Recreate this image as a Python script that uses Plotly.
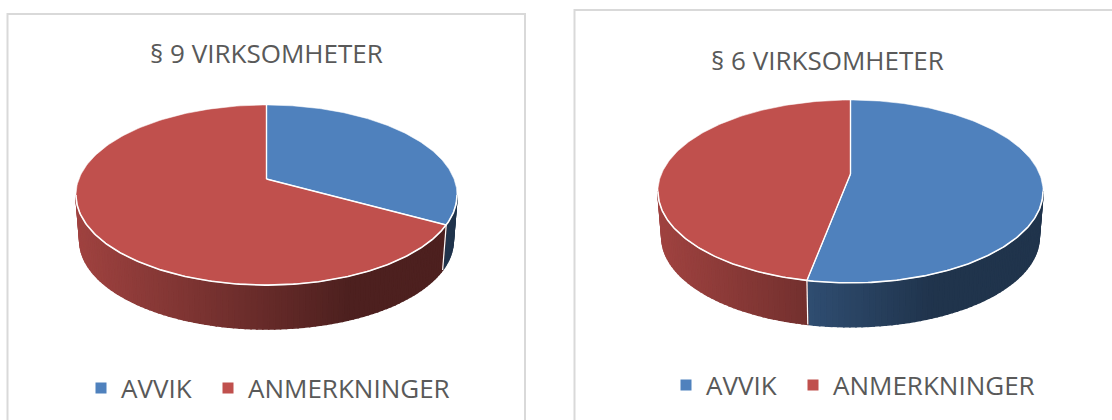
import numpy as np
import plotly.graph_objects as go

# ---- data ----
categories = ["AVVIK", "ANMERKNINGER"]
titles = ["§ 9 VIRKSOMHETER", "§ 6 VIRKSOMHETER"]
values_par9 = [33, 67]
values_par6 = [53, 47]
colors = ["#4f81bd", "#c0504d"]

FONT = "Open Sans"
TXT = "#595959"

# layout of each 3-D pie, in axis units (axis = page pixels)
pies = [
    dict(values=values_par9, hx=266.5, hy=179, a=187.5, b=87.2, k=0.178, title=titles[0], tx=266, ty=53,
         lg=["legend", "legend2"], lx=[81, 208], ly=388),
    dict(values=values_par6, hx=850.5, hy=174, a=189, b=88.1, k=0.191, title=titles[1], tx=827, ty=60,
         lg=["legend3", "legend4"], lx=[666, 793], ly=385),
]
DEPTH = 46
BOTTOM_SCALE = 0.98


def project(p, deg, bottom=False):
    t = np.radians(deg)
    u, v = np.sin(t), np.cos(t)
    w = 1 + p["k"] * v
    s = BOTTOM_SCALE if bottom else 1.0
    x = p["hx"] + s * p["a"] * u / w
    y = p["hy"] - s * p["b"] * v / w + (DEPTH if bottom else 0)
    return x, y


def shade(hex_color, x, p):
    left = p["hx"] - p["a"] * 1.017
    t = (x - left) / (2 * p["a"] * 1.017)
    f = max(0.40, 0.83 - 0.6 * t)
    rgb = [int(hex_color[i:i + 2], 16) for i in (1, 3, 5)]
    return "rgb(%d,%d,%d)" % tuple(round(c * f) for c in rgb)


fig = go.Figure()

for p in pies:
    total = sum(p["values"])
    edges = np.cumsum([0] + p["values"]) / total * 360
    vis0 = 90 + np.degrees(np.arcsin(p["k"]))
    vis1 = 270 - np.degrees(np.arcsin(p["k"]))

    # side wall, drawn strip by strip for the horizontal gradient
    for i, col in enumerate(colors):
        lo, hi = max(edges[i], vis0), min(edges[i + 1], vis1)
        if hi <= lo:
            continue
        n = max(2, int((hi - lo) / 1.5))
        steps = np.linspace(lo, hi, n + 1)
        for d0, d1 in zip(steps[:-1], steps[1:]):
            x0, y0 = project(p, d0)
            x1, y1 = project(p, d1)
            x2, y2 = project(p, d1, True)
            x3, y3 = project(p, d0, True)
            c = shade(col, (x0 + x1) / 2, p)
            fig.add_trace(go.Scatter(x=[x0, x1, x2, x3, x0], y=[y0, y1, y2, y3, y0], mode="lines",
                                     fill="toself", fillcolor=c, line=dict(color=c, width=1.6),
                                     showlegend=False, hoverinfo="skip"))

    # slice boundary on the wall
    for e in edges[1:-1]:
        if vis0 < e < vis1:
            x0, y0 = project(p, e)
            x1, y1 = project(p, e, True)
            fig.add_trace(go.Scatter(x=[x0, x1], y=[y0, y1], mode="lines",
                                     line=dict(color="#ffffff", width=1.2),
                                     showlegend=False, hoverinfo="skip"))

    # top face
    for i, col in enumerate(colors):
        deg = np.linspace(edges[i], edges[i + 1], 180)
        xs, ys = project(p, deg)
        fig.add_trace(go.Scatter(x=np.r_[p["hx"], xs, p["hx"]], y=np.r_[p["hy"], ys, p["hy"]],
                                 mode="lines", fill="toself", fillcolor=col,
                                 line=dict(color="rgba(255,255,255,0.55)", width=1),
                                 name=categories[i], showlegend=False,
                                 hovertemplate="%s: %d<extra></extra>" % (categories[i], p["values"][i])))

    # white rim over the front, white spokes
    deg = np.linspace(vis0, vis1, 200)
    xs, ys = project(p, deg)
    fig.add_trace(go.Scatter(x=xs, y=ys, mode="lines", line=dict(color="#ffffff", width=1.6),
                             showlegend=False, hoverinfo="skip"))
    for e in edges[:-1]:
        x1, y1 = project(p, e)
        fig.add_trace(go.Scatter(x=[p["hx"], x1], y=[p["hy"], y1], mode="lines",
                                 line=dict(color="#ffffff", width=1.4),
                                 showlegend=False, hoverinfo="skip"))

    # legend entries (one small legend per entry so each sits where the reference has it)
    for i, col in enumerate(colors):
        fig.add_trace(go.Scatter(x=[None], y=[None], mode="markers", name=categories[i], legend=p["lg"][i],
                                 marker=dict(symbol="square", size=11, color=col), showlegend=True))

annotations = [dict(x=p["tx"], y=p["ty"], text=p["title"], showarrow=False, xref="x", yref="y",
                    font=dict(family=FONT, size=26, color=TXT)) for p in pies]

shapes = [
    dict(type="rect", x0=7.5, y0=14, x1=525, y1=440, line=dict(color="#d9d9d9", width=2), layer="below"),
    dict(type="rect", x0=574.5, y0=10, x1=1140, y1=440, line=dict(color="#d9d9d9", width=2), layer="below"),
]


def legend_cfg(x_px, y_px):
    return dict(orientation="h", x=x_px / 1112, xanchor="left", y=1 - y_px / 420, yanchor="middle",
                font=dict(family=FONT, size=26, color=TXT), bgcolor="rgba(0,0,0,0)",
                itemclick=False, itemdoubleclick=False)


legends = {name: legend_cfg(x, p["ly"]) for p in pies for name, x in zip(p["lg"], p["lx"])}

fig.update_layout(
    width=1112, height=420, margin=dict(l=0, r=0, t=0, b=0),
    paper_bgcolor="#ffffff", plot_bgcolor="#ffffff",
    xaxis=dict(range=[0, 1112], visible=False, fixedrange=True),
    yaxis=dict(range=[420, 0], visible=False, fixedrange=True),
    annotations=annotations, shapes=shapes,
    hovermode="closest",
    **legends,
)

fig.write_html("out.html", config=dict(displayModeBar=False),
               post_script="document.body.style.margin='0';document.body.style.overflow='hidden';")
